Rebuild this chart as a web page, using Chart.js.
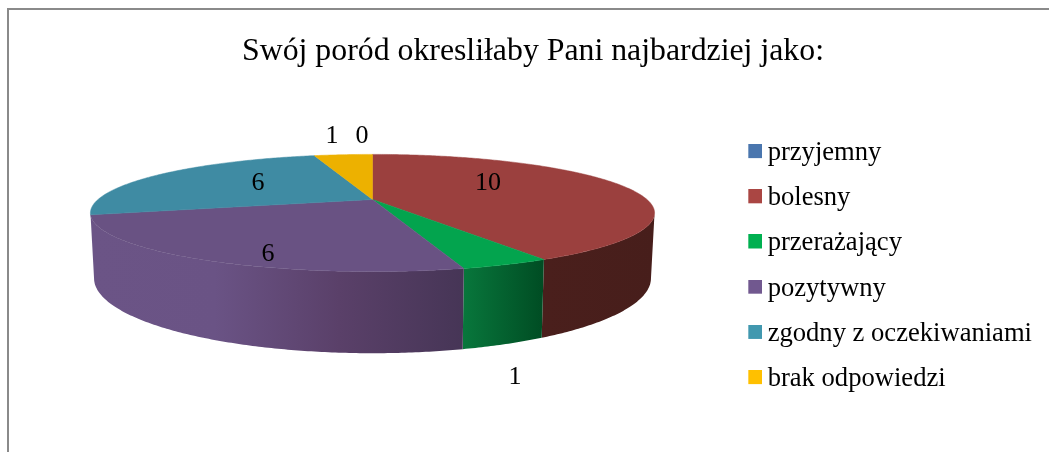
<!DOCTYPE html>
<html>
<head>
<meta charset="utf-8">
<title>Poród</title>
<script src="https://cdn.jsdelivr.net/npm/chart.js@4"></script>
<style>
	html, body { margin: 0; background: #fff; overflow: hidden; }
	#frame { position: absolute; left: 7px; top: 8px; width: 1200px; height: 600px; border: 2px solid #8a8a8a; }
	#wrap { position: absolute; left: 0; top: 0; width: 1049px; height: 452px; }
</style>
</head>
<body>
<div id="frame"></div>
<div id="wrap"><canvas id="pie"></canvas></div>
<script>
const chartTitle = "Swój poród okresliłaby Pani najbardziej jako:";
const categories = ["przyjemny", "bolesny", "przerażający", "pozytywny", "zgodny z oczekiwaniami", "brak odpowiedzi"];
const values = [0, 10, 1, 6, 6, 1];

const legendColors = ["#4a76ae", "#aa4643", "#00b050", "#71588f", "#4198af", "#ffc000"];
const faceColors = ["#4a76ae", "#9b403e", "#03a44e", "#695283", "#3f8ba3", "#edb100"];
const wallColors = [
	["#33527a", "#33527a"],
	["#4a1f1c", "#471e1b"],
	["#08773c", "#004c23"],
	["#6b5486", "#6a5385", "#5a4069", "#463556"],
	["#2c6172", "#2c6172"],
	["#a57b00", "#a57b00"],
];

// where Excel left the data labels (centre of the text)
const labelSpots = [[362, 136], [488, 183], [515, 377], [268, 254], [258, 183], [332, 136]];

const SERIF = "'Liberation Serif', 'Times New Roman', serif";

// perspective of the tilted disc: top rim and bottom rim of the cylinder
const TOP_RIM = { cx: 372.5, cy: 199.5, a: 274.5, b: 55.5 };
const BOTTOM_RIM = { cx: 372.5, cy: 261, a: 271, b: 71 };
const TILT = 0.23;
// silhouette of the disc, the wall only shows between these two angles
const WALL_FROM = Math.asin(TILT);
const WALL_TO = Math.PI - Math.asin(TILT);

function project(rim, angle, r = 1) {
	const X = r * Math.cos(angle);
	const Y = r * Math.sin(angle);
	const w = 1 - TILT * Y;
	return [rim.cx + (rim.a * X) / w, rim.cy + (rim.b * Y) / w];
}

function arcPoints(rim, start, end) {
	const steps = Math.max(2, Math.ceil((end - start) / 0.01));
	const pts = [];
	for (let i = 0; i <= steps; i++) pts.push(project(rim, start + ((end - start) * i) / steps));
	return pts;
}

function tracePath(ctx, pts) {
	ctx.beginPath();
	pts.forEach(([x, y], i) => (i ? ctx.lineTo(x, y) : ctx.moveTo(x, y)));
	ctx.closePath();
}

const pie3d = {
	id: "pie3d",
	beforeDatasetDraw(chart, args) {
		const ctx = chart.ctx;
		const arcs = args.meta.data;
		const order = arcs.map((_, i) => i).filter((i) => arcs[i].endAngle > arcs[i].startAngle);

		ctx.save();
		// side walls first, the top face covers whatever is behind it
		order.forEach((i) => {
			const start = Math.max(arcs[i].startAngle, WALL_FROM);
			const end = Math.min(arcs[i].endAngle, WALL_TO);
			if (end <= start) return;
			const top = arcPoints(TOP_RIM, start, end);
			const bottom = arcPoints(BOTTOM_RIM, start, end);
			const pts = top.concat(bottom.reverse());
			const xs = pts.map((p) => p[0]);
			const grad = ctx.createLinearGradient(Math.min(...xs), 0, Math.max(...xs), 0);
			const stops = wallColors[i];
			stops.forEach((c, k) => grad.addColorStop(k / (stops.length - 1), c));
			ctx.fillStyle = grad;
			tracePath(ctx, pts);
			ctx.fill();
		});
		order.forEach((i) => {
			const pts = arcPoints(TOP_RIM, arcs[i].startAngle, arcs[i].endAngle);
			pts.push(project(TOP_RIM, 0, 0));
			ctx.fillStyle = faceColors[i];
			ctx.strokeStyle = faceColors[i];
			ctx.lineWidth = 0.5;
			tracePath(ctx, pts);
			ctx.fill();
			ctx.stroke();
		});

		ctx.fillStyle = "#000";
		ctx.font = "26px " + SERIF;
		ctx.textAlign = "center";
		ctx.textBaseline = "middle";
		values.forEach((v, i) => ctx.fillText(String(v), labelSpots[i][0], labelSpots[i][1]));
		ctx.restore();
		return false; // the stock flat arcs are replaced by the ones above
	},
};

// Chart.js puts the legend text half a font size after the box, here it sits closer
function legendSwatch(color) {
	const c = document.createElement("canvas");
	c.width = 16;
	c.height = 18;
	const g = c.getContext("2d");
	g.fillStyle = color;
	g.fillRect(2, 0, 14, 14);
	return c;
}

new Chart(document.getElementById("pie"), {
	type: "pie",
	data: {
		labels: categories,
		datasets: [{ data: values, backgroundColor: legendColors, borderWidth: 0 }],
	},
	plugins: [pie3d],
	options: {
		responsive: true,
		maintainAspectRatio: false,
		animation: false,
		layout: { padding: { left: 24, right: 7, top: 0, bottom: 0 } },
		plugins: {
			tooltip: { enabled: false },
			title: {
				display: true,
				text: chartTitle,
				color: "#000",
				font: { family: SERIF, size: 31.8, weight: "normal" },
				padding: { top: 33, bottom: 9 },
			},
			legend: {
				position: "right",
				fullSize: false,
				labels: {
					color: "#000",
					font: { family: SERIF, size: 26.6, lineHeight: 1 },
					padding: 18.6,
					usePointStyle: true,
					pointStyleWidth: 0.1,
					generateLabels(chart) {
						return categories.map((text, i) => ({
							text,
							fillStyle: legendColors[i],
							pointStyle: legendSwatch(legendColors[i]),
							lineWidth: 0,
							index: i,
						}));
					},
				},
			},
		},
	},
});
</script>
</body>
</html>
